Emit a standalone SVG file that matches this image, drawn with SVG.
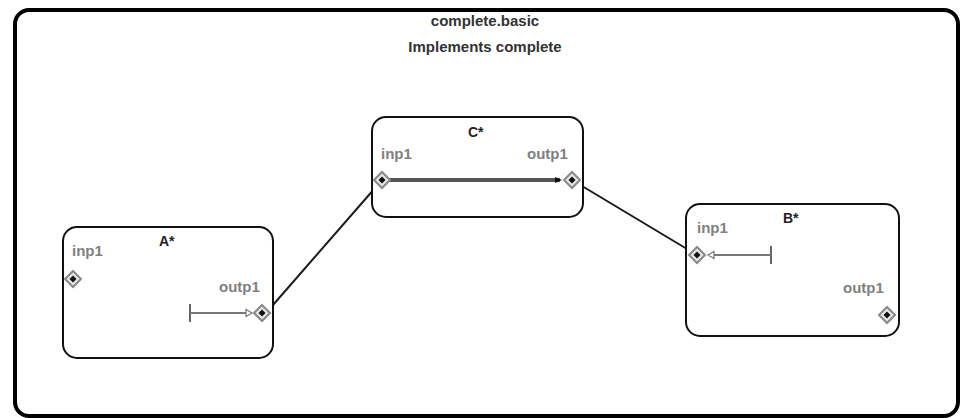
<svg xmlns="http://www.w3.org/2000/svg" width="963" height="418" viewBox="0 0 963 418">
<defs>
<style>
.frame{fill:#fff;stroke:#000;stroke-width:4}
.node{fill:#fff;stroke:#111;stroke-width:2}
.title{font-family:"Liberation Sans",Arial,sans-serif;font-weight:bold;font-size:15px;fill:#333;text-anchor:middle}
.nlabel{font-family:"Liberation Sans",Arial,sans-serif;font-weight:bold;font-size:14px;fill:#222}
.plabel{font-family:"Liberation Sans",Arial,sans-serif;font-weight:bold;font-size:15px;fill:#808080}
.conn{fill:none;stroke:#1a1a1a;stroke-width:2}
.wire{fill:none;stroke:#777;stroke-width:2}
.tick{stroke:#666;stroke-width:2}
.harrow{fill:#fff;stroke:#777;stroke-width:1.2}
</style>
<g id="port">
<path d="M0,-8 L8,0 L0,8 L-8,0 Z" fill="#e6e6e6" stroke="#888" stroke-width="2"/>
<path d="M0,-3.5 L3.5,0 L0,3.5 L-3.5,0 Z" fill="#111"/>
</g>
</defs>
<rect width="963" height="418" fill="#fff"/>
<g id="frame">
<rect class="frame" x="15" y="10" width="943" height="406" rx="14"/>
<text class="title" x="485" y="26">complete.basic</text>
<text class="title" x="485" y="52">Implements complete</text>
</g>
<g id="connectors">
<line class="conn" x1="266" y1="313" x2="382" y2="180"/>
<line class="conn" x1="572" y1="180" x2="697" y2="255"/>
</g>
<g id="nodeA">
<rect class="node" x="63" y="227" width="210" height="131" rx="14"/>
<text class="nlabel" x="159" y="246">A*</text>
<text class="plabel" x="72" y="256">inp1</text>
<text class="plabel" x="219" y="292">outp1</text>
<line class="tick" x1="190" y1="304" x2="190" y2="322"/>
<line class="wire" x1="190" y1="313" x2="246" y2="313"/>
<path class="harrow" d="M246,309.5 L252,313 L246,316.5 Z"/>
<use href="#port" x="73" y="279"/>
<use href="#port" x="262" y="313"/>
</g>
<g id="nodeC">
<rect class="node" x="372" y="117" width="211" height="100" rx="14"/>
<text class="nlabel" x="468" y="137">C*</text>
<text class="plabel" x="381" y="159">inp1</text>
<text class="plabel" x="527" y="159">outp1</text>
<line x1="388" y1="180" x2="560" y2="180" stroke="#555" stroke-width="4"/>
<path d="M555,177 L562,180 L555,183 Z" fill="#111"/>
<use href="#port" x="382" y="180"/>
<use href="#port" x="572" y="180"/>
</g>
<g id="nodeB">
<rect class="node" x="686" y="204" width="213" height="132" rx="14"/>
<text class="nlabel" x="783" y="223">B*</text>
<text class="plabel" x="697" y="233">inp1</text>
<text class="plabel" x="843" y="293">outp1</text>
<line class="tick" x1="771" y1="246" x2="771" y2="264"/>
<line class="wire" x1="714" y1="255" x2="771" y2="255"/>
<path class="harrow" d="M714,251.5 L708,255 L714,258.5 Z"/>
<use href="#port" x="697" y="255"/>
<use href="#port" x="887" y="315"/>
</g>
</svg>
